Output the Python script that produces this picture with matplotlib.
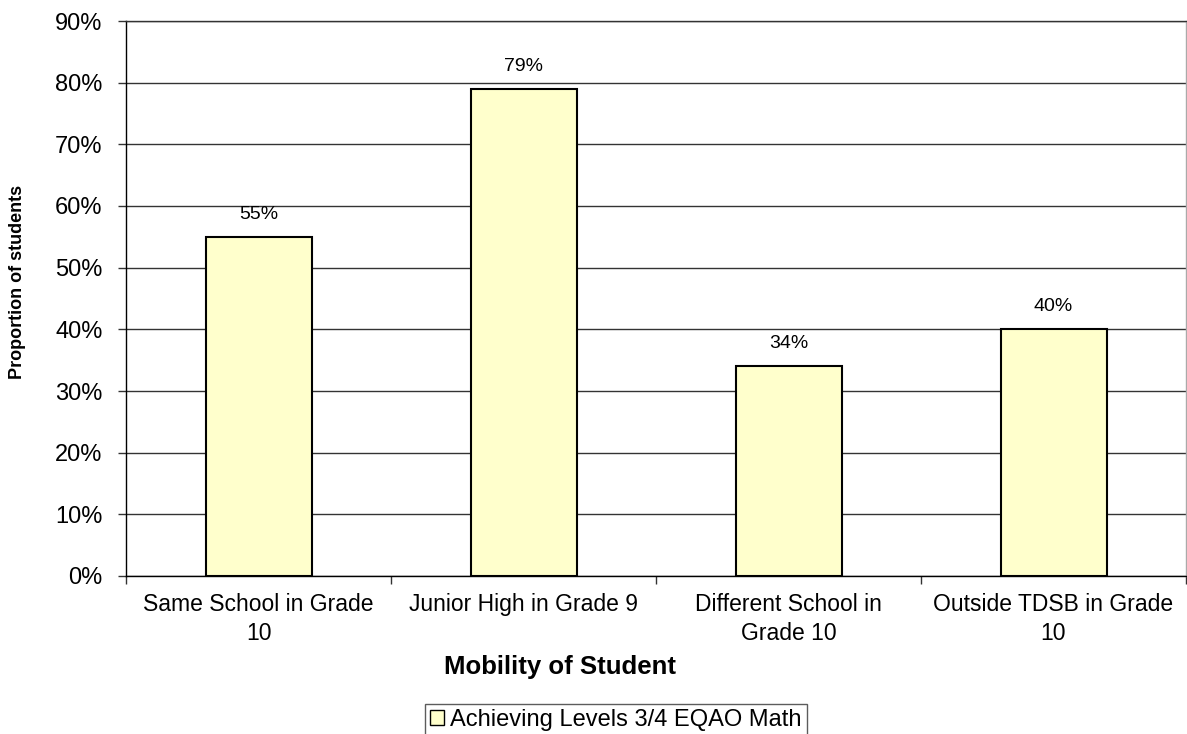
import matplotlib
matplotlib.use("Agg")
import matplotlib.pyplot as plt
from matplotlib.patches import Patch
import numpy as np

categories = ["Same School in Grade\n10", "Junior High in Grade 9",
              "Different School in\nGrade 10", "Outside TDSB in Grade\n10"]
values = [55, 79, 34, 40]
value_labels = ["55%", "79%", "34%", "40%"]
yticks = [0, 10, 20, 30, 40, 50, 60, 70, 80, 90]
ytick_labels = ["0%", "10%", "20%", "30%", "40%", "50%", "60%", "70%", "80%", "90%"]
series_name = "Achieving Levels 3/4 EQAO Math"

plt.rcParams['font.family'] = ['Liberation Sans', 'DejaVu Sans']

W, H = 1187, 734
fig = plt.figure(figsize=(W / 100, H / 100), dpi=100)
ax = fig.add_axes([126 / W, 1 - 576 / H, (1186 - 126) / W, (576 - 21) / H])

x = np.arange(len(categories))
bars = ax.bar(x, values, width=0.4, color="#FFFFCC", edgecolor="black",
              linewidth=1.5, zorder=3)

ax.set_xlim(-0.5, len(categories) - 0.5)
ax.set_ylim(0, 90)
ax.set_yticks(yticks)
ax.set_yticklabels(ytick_labels, fontsize=17)
ax.yaxis.grid(True, color="#333333", linewidth=1.0, zorder=0)
ax.set_axisbelow(True)

ax.set_xticks(x)
ax.set_xticklabels(categories, fontsize=16.5, linespacing=1.35)
ax.tick_params(axis="x", which="major", length=0, pad=12)
ax.set_xticks(np.arange(len(categories) + 1) - 0.5, minor=True)
ax.tick_params(axis="x", which="minor", length=6, width=1, color="#333333")
ax.tick_params(axis="y", length=6, width=1, pad=11, color="#333333")

for s in ["left", "bottom"]:
    ax.spines[s].set_color("black")
    ax.spines[s].set_linewidth(1.0)
ax.spines["top"].set_color("#333333")
ax.spines["top"].set_linewidth(1.0)
ax.spines["right"].set_color("#AAAAAA")
ax.spines["right"].set_linewidth(1.0)

for xi, v, lab in zip(x, values, value_labels):
    ax.annotate(lab, (xi, v), xytext=(0, 10), textcoords="offset points",
                ha="center", va="bottom", fontsize=14)

fig.text(18 / W, 1 - 282 / H, "Proportion of students", rotation=90,
         ha="center", va="center", fontsize=13, fontweight="bold")
fig.text(560 / W, 1 - 667 / H, "Mobility of Student", ha="center",
         va="center", fontsize=18.5, fontweight="bold")

handle = Patch(facecolor="#FFFFCC", edgecolor="black", linewidth=1.0)
leg = fig.legend([handle], [series_name], loc="upper center",
                 bbox_to_anchor=(616 / W, 1 - 704 / H), fontsize=17,
                 frameon=True, fancybox=False, handlelength=0.6,
                 handleheight=0.6, handletextpad=0.25, borderpad=0.2,
                 borderaxespad=0)
leg.get_frame().set_edgecolor("#333333")
leg.get_frame().set_linewidth(1.0)

fig.savefig("out.png", dpi=100, facecolor="white")
